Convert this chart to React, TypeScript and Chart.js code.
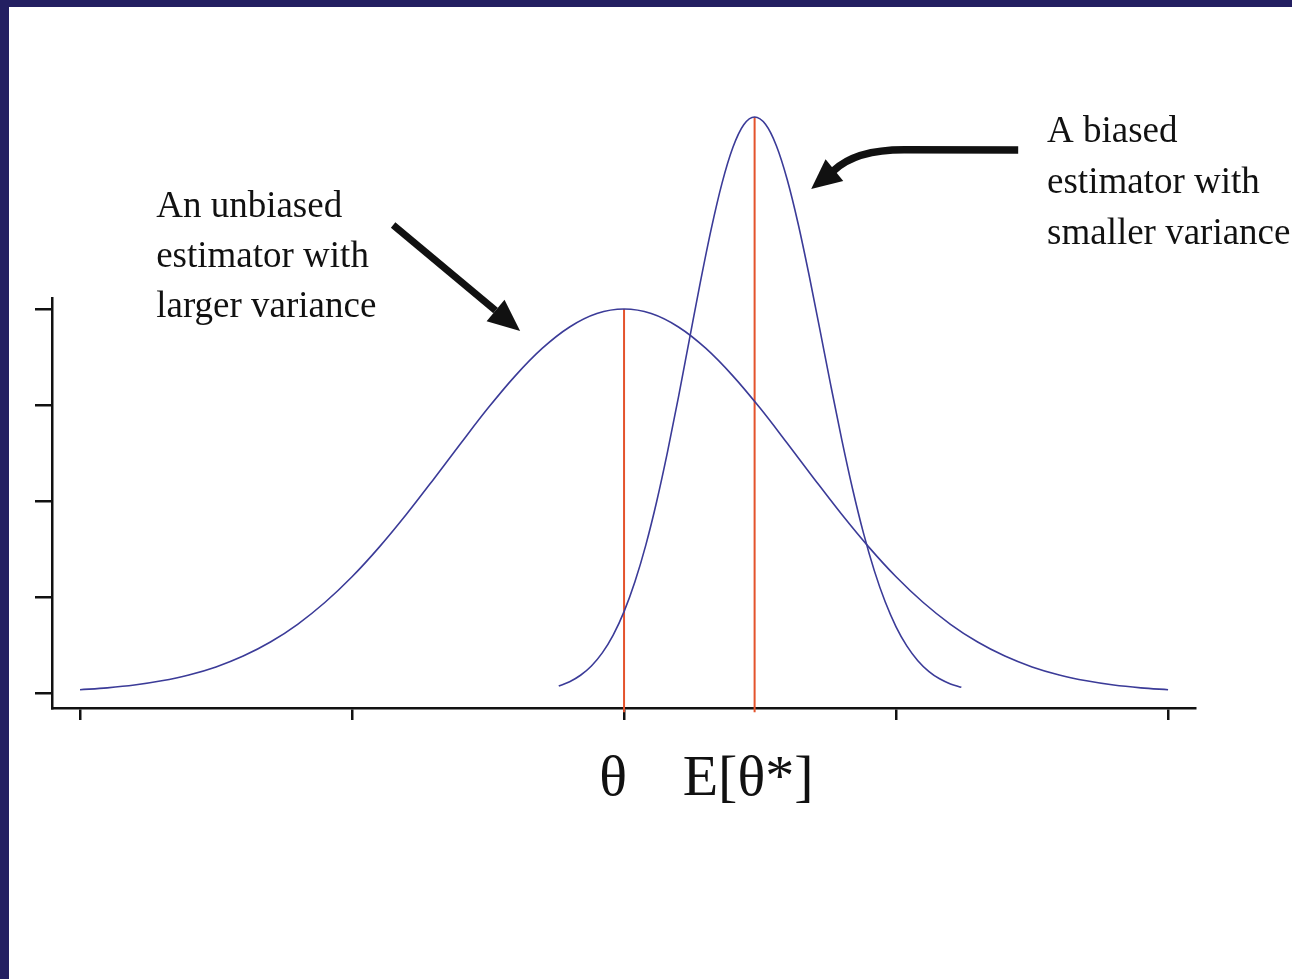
import { useEffect, useRef } from "react";
import { Chart, registerables } from "chart.js";

Chart.register(...registerables);

// Sampling positions along the estimator axis
const wideX = [
  -2.0, -1.9, -1.8, -1.7, -1.6, -1.5, -1.4, -1.3, -1.2, -1.1, -1.0, -0.9, -0.8, -0.7,
  -0.6, -0.5, -0.4, -0.3, -0.2, -0.1, 0.0, 0.1, 0.2, 0.3, 0.4, 0.5, 0.6, 0.7, 0.8, 0.9,
  1.0, 1.1, 1.2, 1.3, 1.4, 1.5, 1.6, 1.7, 1.8, 1.9, 2.0,
];
// Density of the unbiased, wide estimator
const wideY = [
  0.034, 0.054, 0.083, 0.127, 0.188, 0.272, 0.385, 0.531, 0.716, 0.943, 1.211, 1.52,
  1.862, 2.228, 2.602, 2.968, 3.304, 3.592, 3.813, 3.953, 4.0, 3.953, 3.813, 3.592,
  3.304, 2.968, 2.602, 2.228, 1.862, 1.52, 1.211, 0.943, 0.716, 0.531, 0.385, 0.272,
  0.188, 0.127, 0.083, 0.054, 0.034,
];

const narrowX = [
  -0.24, -0.2, -0.16, -0.12, -0.08, -0.04, 0.0, 0.04, 0.08, 0.12, 0.16, 0.2, 0.24,
  0.28, 0.32, 0.36, 0.4, 0.44, 0.48, 0.52, 0.56, 0.6, 0.64, 0.68, 0.72, 0.76, 0.8,
  0.84, 0.88, 0.92, 0.96, 1.0, 1.04, 1.08, 1.12, 1.16, 1.2, 1.24,
];
// Density of the biased, narrow estimator
const narrowY = [
  0.073, 0.118, 0.185, 0.282, 0.418, 0.603, 0.848, 1.159, 1.541, 1.995, 2.514, 3.083,
  3.679, 4.272, 4.827, 5.309, 5.682, 5.919, 6.0, 5.924, 5.701, 5.347, 4.889, 4.357,
  3.785, 3.205, 2.645, 2.128, 1.668, 1.275, 0.95, 0.69, 0.488, 0.337, 0.226, 0.148,
  0.095, 0.059,
];

// True parameter and the biased estimator's mean
const markerX = [0.0, 0.48];
const markerTop = [4.0, 6.0];
const markerBottom = -0.2;

const xTicks = [-2, -1, 0, 1, 2];
const yTicks = [0, 1, 2, 3, 4];

const axisLabels = ["θ", "E[θ*]"];
const axisLabelX = [-0.04, 0.456];
const axisLabelY = -1.0625;

const leftNote = ["An unbiased", "estimator with", "larger variance"];
const leftNoteX = -1.72;
const leftNoteY = [4.958, 4.438, 3.917];

const rightNote = ["A biased", "estimator with", "smaller variance"];
const rightNoteX = 1.555;
const rightNoteY = [5.74, 5.208, 4.677];

// Arrow from the left note to the wide curve
const arrowA = { fromX: -0.849, fromY: 4.875, tipX: -0.382, tipY: 3.771 };
// Bent arrow from the right note to the narrow curve
const arrowB = {
  startX: 1.449, startY: 5.656,
  kneeX: 1.03, kneeY: 5.66,
  ctrlX: 0.85, ctrlY: 5.66,
  endX: 0.77, endY: 5.44,
  tipX: 0.688, tipY: 5.25,
};

const CURVE = "#3b3b98";
const MARKER = "#e4532c";
const INK = "#111111";

function drawHead(ctx: CanvasRenderingContext2D, fx: number, fy: number, tx: number, ty: number, len: number, half: number) {
  const a = Math.atan2(ty - fy, tx - fx);
  const bx = tx - len * Math.cos(a);
  const by = ty - len * Math.sin(a);
  ctx.beginPath();
  ctx.moveTo(tx, ty);
  ctx.lineTo(bx + half * Math.sin(a), by - half * Math.cos(a));
  ctx.lineTo(bx - half * Math.sin(a), by + half * Math.cos(a));
  ctx.closePath();
  ctx.fill();
  return [bx, by];
}

const notesPlugin = {
  id: "notes",
  afterDraw(chart: any) {
    const { ctx } = chart;
    const xs = chart.scales.x;
    const ys = chart.scales.y;
    const px = (v: number) => xs.getPixelForValue(v);
    const py = (v: number) => ys.getPixelForValue(v);
    ctx.save();
    ctx.fillStyle = INK;
    ctx.strokeStyle = INK;
    ctx.textBaseline = "alphabetic";
    ctx.font = '37px "Liberation Serif", "Times New Roman", serif';
    ctx.textAlign = "left";
    leftNote.forEach((t, i) => ctx.fillText(t, px(leftNoteX), py(leftNoteY[i])));
    rightNote.forEach((t, i) => ctx.fillText(t, px(rightNoteX), py(rightNoteY[i])));

    ctx.font = '58px "Liberation Serif", "Times New Roman", serif';
    ctx.textAlign = "center";
    axisLabels.forEach((t, i) => ctx.fillText(t, px(axisLabelX[i]), py(axisLabelY)));

    // straight arrow
    ctx.lineWidth = 7;
    ctx.lineCap = "butt";
    const [ax, ay] = drawHead(ctx, px(arrowA.fromX), py(arrowA.fromY), px(arrowA.tipX), py(arrowA.tipY), 32, 14);
    ctx.beginPath();
    ctx.moveTo(px(arrowA.fromX), py(arrowA.fromY));
    ctx.lineTo(ax, ay);
    ctx.stroke();

    // bent arrow
    ctx.lineWidth = 7.5;
    drawHead(ctx, px(arrowB.endX), py(arrowB.endY), px(arrowB.tipX), py(arrowB.tipY), 30, 14);
    ctx.beginPath();
    ctx.moveTo(px(arrowB.startX), py(arrowB.startY));
    ctx.lineTo(px(arrowB.kneeX), py(arrowB.kneeY));
    ctx.quadraticCurveTo(px(arrowB.ctrlX), py(arrowB.ctrlY), px(arrowB.endX), py(arrowB.endY));
    ctx.stroke();
    ctx.restore();
  },
};

export default function App() {
  const ref = useRef<HTMLCanvasElement>(null);

  useEffect(() => {
    document.body.style.margin = "0";
    if (!ref.current) return;
    const curve = (xs: number[], ys: number[]) => xs.map((x, i) => ({ x, y: ys[i] }));
    const chart = new Chart(ref.current, {
      type: "line",
      data: {
        datasets: [
          {
            data: curve(wideX, wideY),
            borderColor: CURVE,
            borderWidth: 1.6,
            pointRadius: 0,
            cubicInterpolationMode: "monotone",
            clip: false,
          },
          {
            data: curve(narrowX, narrowY),
            borderColor: CURVE,
            borderWidth: 1.6,
            pointRadius: 0,
            cubicInterpolationMode: "monotone",
            clip: false,
          },
          ...markerX.map((mx, i) => ({
            data: [
              { x: mx, y: markerBottom },
              { x: mx, y: markerTop[i] },
            ],
            borderColor: MARKER,
            borderWidth: 2,
            pointRadius: 0,
            clip: false,
          })),
        ],
      },
      options: {
        animation: false,
        responsive: false,
        events: [],
        layout: { padding: { left: 26, right: 97, top: 291, bottom: 259 } },
        plugins: { legend: { display: false }, tooltip: { enabled: false } },
        scales: {
          x: {
            type: "linear",
            min: -2.103,
            max: 2.099,
            afterBuildTicks: (s: any) => {
              s.ticks = xTicks.map((value) => ({ value }));
            },
            ticks: { display: false },
            grid: { drawOnChartArea: false, drawTicks: true, tickLength: 12, color: INK, lineWidth: 2.5 },
            border: { display: true, color: INK, width: 2.5 },
          },
          y: {
            type: "linear",
            min: -0.156,
            max: 4.115,
            afterBuildTicks: (s: any) => {
              s.ticks = yTicks.map((value) => ({ value }));
            },
            ticks: { display: false },
            grid: { drawOnChartArea: false, drawTicks: true, tickLength: 17, color: INK, lineWidth: 2.5 },
            border: { display: true, color: INK, width: 2.5 },
          },
        },
      },
      plugins: [notesPlugin],
    } as any);
    return () => chart.destroy();
  }, []);

  return (
    <div
      style={{
        width: 1292,
        height: 979,
        background: "#231f61",
        paddingLeft: 9,
        paddingTop: 7,
        boxSizing: "border-box",
        overflow: "hidden",
      }}
    >
      <div style={{ width: 1283, height: 972, background: "#ffffff" }}>
        <canvas ref={ref} width={1283} height={972} style={{ display: "block" }} />
      </div>
    </div>
  );
}
